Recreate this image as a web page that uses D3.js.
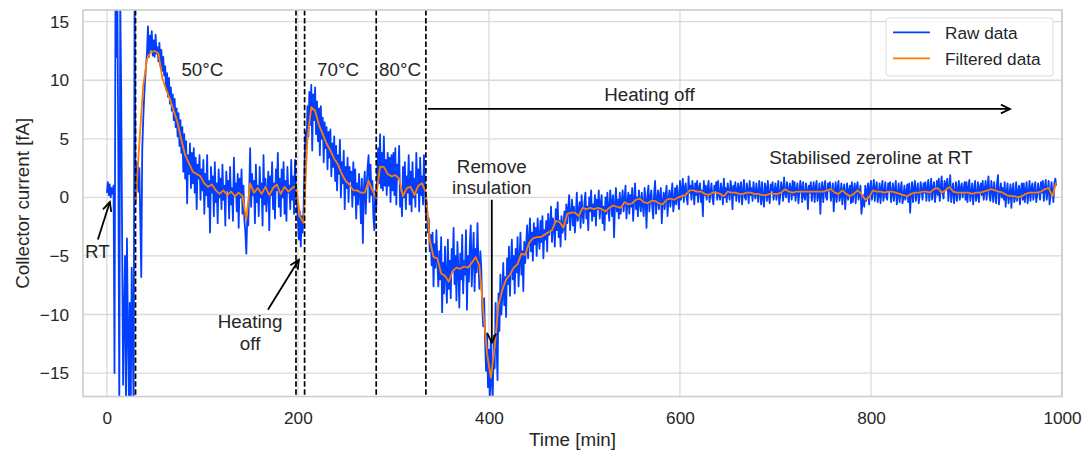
<!DOCTYPE html>
<html>
<head>
<meta charset="utf-8">
<script src="https://cdn.jsdelivr.net/npm/d3@7"></script>
<style>
  body { margin: 0; background: #fff; }
  text { font-family: "Liberation Sans", Arial, sans-serif; fill: #262626; }
</style>
</head>
<body>
<div id="chart"></div>
<script>
// raw collector current [fA], one sample per minute from t = 0 (20 per row)
var rawStart = 0, rawStep = 1;
var rawCurrent = [
  0.4, 1.3, 0.2, 1.1, 0.0, 0.8, 0.3, 1.0, -15, 17, 12, 17, 3, -18, 17, 9, -4, -16, -10, -5,
  -18, -3.5, -11, -17, -9, -18, -6, -12, -18, 17, -0.5, 1.5, 3.0, 0.5, 2.5, -2, -6.8, 4.0, 6.5, 8.5,
  10.0, 11.2, 12.4, 14.6, 12.0, 13.8, 12.6, 14.2, 12.1, 13.4, 12.0, 13.9, 12.3, 12.8, 11.6, 13.2, 11.2, 12.6, 10.8, 12.0,
  10.4, 11.2, 9.2, 10.6, 8.6, 10.2, 8.0, 9.4, 7.4, 8.8, 6.6, 8.4, 6.0, 7.6, 5.2, 7.2, 4.4, 6.6, 3.8, 6.0,
  2.2, 5.4, 1.6, 4.8, -0.5, 3.6, 2.0, 4.6, 0.8, 3.8, 1.2, 4.2, 0.4, 3.4, -1.0, 2.8, 1.6, 3.6, -0.2, 2.4,
  0.6, 3.2, -1.4, 2.0, 0.2, 3.6, -0.8, 1.4, -3.0, 2.6, 0.4, 1.8, -1.6, 3.0, -0.4, 1.2, -2.2, 2.4, 0.0, 1.6,
  -1.0, 2.8, -0.2, 1.0, -2.4, 2.2, 0.6, 1.4, -1.8, 2.6, -0.6, 0.8, -2.0, 3.4, 0.2, 1.2, -1.2, 2.0, -2.6, 1.6,
  0.0, 2.4, -1.4, 1.0, -2.0, -3.0, -4.8, -1.6, -2.4, 0.4, 4.2, -0.8, 2.0, 0.2, 1.4, -2.2, 2.8, -0.4, 1.0, -1.6,
  2.6, 0.0, 1.2, -2.4, 3.6, -0.6, 1.6, -1.2, 0.4, 2.2, -2.8, 1.8, 0.2, 3.0, -1.0, 1.2, -1.8, 2.4, 0.6, 3.8,
  -0.8, 1.6, -1.6, 2.4, 0.0, 3.0, -1.4, 1.4, -2.0, 2.6, 0.4, 1.0, -1.0, 3.2, -0.2, 1.8, -1.4, 3.2, 0.2, -0.6,
  -2.0, -3.6, -1.2, -4.2, -1.6, -3.0, -0.8, 3.0, 5.6, 4.2, 7.8, 5.2, 9.0, 6.2, 9.6, 4.0, 8.8, 6.6, 9.4, 5.4,
  8.2, 4.8, 7.6, 3.6, 7.8, 5.0, 6.8, 3.0, 6.4, 4.2, 6.0, 2.4, 5.6, 3.4, 5.8, 1.8, 4.6, 2.6, 5.2, 1.4,
  4.4, 0.6, 3.6, 2.0, 4.9, 0.0, 3.0, 1.2, 4.0, -1.0, 2.6, 0.8, 3.4, -0.4, 2.6, 1.4, 2.2, -0.8, 3.0, 0.2,
  2.4, -1.8, 1.2, -0.6, 2.0, 0.4, -2.2, 1.6, -3.9, 0.6, 2.2, -1.4, 1.0, 2.6, 3.6, -0.4, 2.8, 0.2, 1.4, -1.6,
  -2.8, 0.6, -1.0, 2.0, 4.2, 1.2, 5.4, 0.8, 3.8, 0.6, 5.2, 1.0, 3.2, 0.2, 3.8, 1.0, 3.4, -0.4, 3.6, 0.6,
  3.8, 0.2, 4.2, -0.6, 2.8, 1.6, 4.4, -0.8, 0.4, -1.6, 2.6, 0.0, 3.0, -1.0, 1.8, 0.4, 3.6, -0.6, 2.2, -1.2,
  3.0, 0.0, 1.6, -0.8, 3.8, 0.4, 2.4, -1.2, 3.4, 0.2, 1.8, -0.6, 3.6, 1.0, -1.6, -0.4, -3.0, -1.8, -4.6, -3.2,
  -5.8, -3.0, -7.6, -4.0, -6.0, -2.8, -5.4, -7.6, -4.6, -7.0, -3.4, -9.8, -5.6, -8.2, -4.2, -6.8, -9.0, -3.6, -7.8, -5.4,
  -8.6, -4.4, -6.2, -2.6, -7.4, -5.0, -8.8, -3.8, -6.0, -9.4, -4.8, -7.0, -3.2, -8.2, -5.4, -6.6, -2.8, -9.6, -5.0, -7.2,
  -4.0, -2.4, -7.6, -5.2, -3.0, -8.0, -4.4, -6.4, -2.2, -5.6, -7.8, -4.6, -6.0, -9.4, -11.0, -8.6, -12.4, -14.8, -11.6, -16.2,
  -13.0, -17.5, -12.2, -15.8, -17.2, -11.8, -14.6, -9.0, -12.6, -15.6, -8.2, -11.4, -6.6, -10.0, -8.4, -5.6, -9.2, -6.8, -10.2, -5.2,
  -7.4, -4.2, -8.4, -5.8, -3.6, -7.0, -5.0, -8.2, -4.4, -6.4, -3.4, -7.6, -5.4, -3.0, -6.6, -4.6, -8.0, -3.8, -5.6, -4.0,
  -2.4, -5.2, -3.6, -1.8, -4.6, -3.0, -5.4, -2.2, -4.0, -2.6, -5.0, -1.8, -3.4, -4.4, -2.0, -3.8, -1.6, -5.2, -2.8, -3.6,
  -2.0, -4.6, -1.4, -3.2, -2.6, -0.8, -3.8, -1.8, -2.4, -4.2, -1.0, -2.8, -0.4, -3.4, -2.0, -4.2, -1.6, -3.0, -2.6, -1.2,
  -3.6, -0.6, -2.2, -1.0, 0.2, -2.8, -1.4, -0.2, -2.4, -0.8, -3.0, -1.6, 0.4, -2.0, -1.2, -0.4, -2.6, 0.2, -1.4, -2.2,
  -0.4, 0.4, -1.8, -0.8, -2.8, 0.0, -1.2, 0.6, -2.0, -0.6, -1.6, 0.2, -2.4, -0.2, -1.0, 0.6, -1.8, -0.6, 0.2, -2.2,
  -0.8, -2.8, 0.0, -1.4, 0.4, -1.0, -2.0, 0.6, -0.4, -1.6, 0.2, -3.4, -0.6, 0.8, -1.2, -0.2, -1.8, 0.4, -1.4, -0.4,
  0.6, -1.2, -0.2, 1.0, -1.8, -0.4, 0.4, -1.4, 0.2, -0.8, 0.8, -2.0, -0.2, 1.2, -1.0, 0.0, -1.6, 0.6, -0.4, -1.2,
  0.4, -0.6, -1.6, 0.8, -0.2, -2.6, 0.2, 1.0, -1.2, 0.0, 0.6, -0.8, -1.8, 0.4, 1.4, -1.4, -0.2, 0.6, -1.0, 0.2,
  0.8, -2.2, -0.4, 0.4, -1.0, 0.2, 1.0, -1.6, -0.2, 0.6, -0.8, 0.2, 1.2, -1.2, -0.4, 0.8, -0.6, 1.0, 0.0, -1.0,
  1.4, -0.2, 0.6, 1.6, -0.4, 0.8, 1.2, 0.0, -0.6, 1.8, 0.4, 1.0, -0.2, 1.4, 0.6, -0.6, 1.2, 0.2, 1.4, -0.4,
  0.8, 1.2, -0.4, 0.6, -1.6, 1.4, 0.2, 1.0, -0.2, 0.8, 1.4, -0.4, 0.4, 1.2, 0.0, -0.6, 1.0, 0.6, 1.3, -0.2,
  1.4, 0.2, -0.2, 1.2, 0.6, -0.6, 1.6, 0.0, 0.8, -0.4, 1.2, 0.4, -0.2, 1.4, 0.8, -1.0, 1.0, 0.2, 1.3, -0.3,
  0.6, 1.2, -0.4, 0.8, 1.3, -0.6, 0.4, 1.5, 0.0, -0.2, 1.2, 0.6, -0.5, 1.4, 0.2, 0.8, -0.3, 1.3, 0.4, -0.1,
  1.2, 0.4, -0.4, 1.4, 0.6, -0.6, 1.3, 0.0, -0.8, 1.2, 0.8, -0.3, 1.4, 0.2, -0.5, 1.1, 0.6, 1.3, -0.2, 0.4,
  1.2, -0.2, 0.6, 1.4, -0.6, 0.2, 1.3, 0.8, -0.3, 1.7, 0.4, 0.0, 1.3, 0.6, -0.4, 1.2, 0.8, -0.2, 1.4, 0.2,
  1.3, -0.3, 0.6, 1.2, -0.5, 0.4, 1.4, 0.8, -0.4, 1.3, 0.2, -0.2, 1.2, 0.6, -1.0, 1.0, 0.4, 1.3, -0.3, 0.6,
  1.3, -0.4, 0.8, 1.4, -0.3, 0.2, 1.2, -1.4, 0.6, 1.3, -0.4, 0.8, 1.4, 0.0, -0.2, 1.2, 0.6, 1.3, -0.3, 0.4,
  1.2, -1.2, 0.4, 1.3, -0.4, 0.8, 1.4, -0.3, 0.2, 1.2, -0.6, 0.6, 1.1, -1.0, 0.4, 1.2, -0.2, 0.6, 1.0, -0.5,
  1.3, -0.4, 0.6, 1.2, -0.5, 0.8, 1.3, -0.2, 0.4, 1.0, -1.4, -0.6, 0.2, -0.8, 1.0, -0.3, 0.6, 1.2, -0.6, 0.8,
  1.4, -0.2, 0.6, 1.5, -0.3, 0.8, 1.3, -0.4, 0.2, 1.2, -0.5, 0.8, 1.4, -0.3, 0.4, 1.3, 0.0, -0.2, 1.2, 0.6,
  1.3, -0.4, 0.4, 1.2, -0.3, 0.6, 1.4, -0.6, 0.2, 1.2, -0.4, 0.6, 1.3, -0.5, 0.0, 1.0, -0.2, 0.4, 1.1, -0.4,
  1.2, -1.3, 0.4, 1.3, -0.4, 0.8, 1.4, -0.3, 0.6, 1.2, -0.5, 0.2, 1.3, 0.6, -0.2, 1.2, 0.4, 1.3, -0.3, 0.8,
  1.5, -0.3, 0.6, 1.6, -0.2, 0.8, 1.3, -0.4, 0.4, 1.4, 0.2, 1.6, -0.3, 0.8, 1.8, 0.4, -0.1, 1.4, 0.6, 1.2,
  1.6, -0.3, 0.8, 1.9, -0.4, 0.6, 1.2, -0.5, 0.4, 1.3, -0.3, 0.6, 1.4, -0.2, 0.8, 1.2, 0.0, 0.6, 1.3, -0.2,
  1.3, -0.4, 0.8, 1.5, -0.3, 0.4, 1.2, -0.6, 0.6, 1.4, -0.3, 0.2, 1.3, -0.4, 0.8, 1.2, 0.2, 1.4, -0.2, 0.6,
  1.4, -0.2, 0.8, 1.8, 0.2, -0.3, 1.4, 0.6, -0.4, 1.3, 0.4, -0.5, 1.2, 1.9, -0.6, 0.4, 1.2, 0.0, 0.8, -0.2,
  1.3, -0.8, 0.4, 1.2, -0.5, 0.2, 1.1, -0.9, 0.6, 1.2, -0.4, 0.0, 1.3, -0.3, 0.4, 1.0, -0.6, 0.6, 1.2, -0.2,
  1.2, -0.4, 0.6, 1.3, -0.5, 0.4, 1.4, -0.3, 0.8, 1.2, -0.2, 0.6, 1.3, -0.4, 0.2, 1.2, 0.6, -0.2, 1.3, 0.4,
  1.4, -0.3, 0.8, 1.5, -0.2, 0.6, 1.4, -0.6, 0.2, 1.3, 0.4, -0.4, 1.2, 1.6, 1.0
];

// filtered current [fA], one sample every 4 min from t = 30
var filtStart = 30, filtStep = 4;
var filteredCurrent = [
  -0.5, 4.6, 9.5, 11.8, 12.4, 12.5, 12.3, 10.2, 9.2, 8.4,
  7.4, 6.4, 4.9, 3.6, 2.9, 2.2, 2.0, 1.8, 1.2, 0.9,
  1.1, 0.6, 0.3, 0.6, 0.2, 0.5, 0.1, 0.4, 0.1, -1.9,
  1.2, 0.4, 0.8, 0.3, 0.9, 0.2, 0.8, 1.1, 0.3, 0.9,
  0.5, 0.8, 1.0, -1.6, -2.2, 5.0, 7.7, 7.4, 6.2, 5.4,
  4.6, 4.0, 3.3, 2.8, 2.0, 1.4, 1.1, 0.6, 0.6, 0.4,
  0.4, 1.4, 0.6, 0.0, 2.6, 2.6, 2.0, 1.8, 1.9, 1.6,
  0.1, 0.8, 0.9, 0.2, 1.0, 1.2, 0.4, -3.6, -5.1, -5.2,
  -6.5, -6.7, -7.2, -6.3, -6.0, -6.1, -5.9, -6.0, -5.6, -5.1,
  -5.8, -9.6, -13.3, -15.4, -12.8, -9.2, -7.9, -7.0, -6.6, -6.0,
  -5.7, -4.8, -4.9, -3.9, -3.5, -3.4, -3.4, -3.2, -3.0, -2.8,
  -2.0, -2.1, -2.6, -1.4, -1.3, -1.3, -1.6, -0.9, -1.0, -0.9,
  -1.0, -0.9, -1.0, -1.2, -0.9, -0.7, -0.8, -0.9, -0.4, -0.6,
  -0.5, -0.2, -0.1, -0.4, -0.5, -0.3, -0.3, -0.5, -0.6, -0.2,
  -0.1, -0.2, 0.0, 0.1, 0.2, 0.6, 0.6, 0.5, 0.5, 0.3,
  0.2, 0.4, 0.4, 0.3, 0.1, 0.5, 0.4, 0.4, 0.3, 0.3,
  0.4, 0.4, 0.3, 0.3, 0.2, 0.2, 0.3, 0.3, 0.3, 0.4,
  0.7, 0.5, 0.4, 0.5, 0.5, 0.5, 0.5, 0.5, 0.5, 0.5,
  0.5, 0.6, 0.7, 0.4, 0.3, 0.6, 0.3, 0.1, 0.3, 0.6,
  0.3, -0.2, 0.0, 0.6, 0.5, 0.5, 0.4, 0.5, 0.5, 0.4,
  0.3, 0.2, 0.1, 0.3, 0.4, 0.4, 0.5, 0.5, 0.4, 0.7,
  0.8, 0.4, 0.6, 0.9, 0.5, 0.4, 0.4, 0.4, 0.4, 0.3,
  0.4, 0.4, 0.5, 0.6, 0.7, 0.6, 0.5, 0.4, 0.2, 0.1,
  0.1, 0.0, 0.1, 0.3, 0.4, 0.4, 0.4, 0.5, 0.7, 0.8,
  0.1, 1.3
];

// ticks, event markers, legend names
var xTicks = [0, 200, 400, 600, 800, 1000];
var yTicks = [-15, -10, -5, 0, 5, 10, 15];
var eventTimes = [30, 198, 207, 282, 334];
var seriesNames = ["Raw data", "Filtered data"];
var seriesColors = ["#023eff", "#ff7c00"];

// set the dimensions and margins of the graph
var margin = {top: 10, right: 23, bottom: 54.5, left: 83},
    width = 1085 - margin.left - margin.right,
    height = 451 - margin.top - margin.bottom;

var svg = d3.select("#chart").append("svg")
    .attr("width", 1085)
    .attr("height", 451);

var g = svg.append("g")
    .attr("transform", "translate(" + margin.left + "," + margin.top + ")");

var x = d3.scaleLinear().domain([-25, 1000]).range([0, width]);
var y = d3.scaleLinear().domain([-17, 16]).range([height, 0]);

// grid lines
g.append("g").selectAll("line")
    .data(xTicks)
    .enter().append("line")
    .attr("x1", function(d) { return x(d); })
    .attr("x2", function(d) { return x(d); })
    .attr("y1", 0).attr("y2", height)
    .attr("stroke", "#dadada").attr("stroke-width", 1.3);

g.append("g").selectAll("line")
    .data(yTicks)
    .enter().append("line")
    .attr("y1", function(d) { return y(d); })
    .attr("y2", function(d) { return y(d); })
    .attr("x1", 0).attr("x2", width)
    .attr("stroke", "#dadada").attr("stroke-width", 1.3);

// tick labels
var xAxis = g.append("g")
    .attr("transform", "translate(0," + height + ")")
    .call(d3.axisBottom(x).tickValues(xTicks).tickFormat(d3.format("d")).tickSize(0).tickPadding(15));
var yAxis = g.append("g")
    .call(d3.axisLeft(y).tickValues(yTicks).tickFormat(d3.format("d")).tickSize(0).tickPadding(14));
[xAxis, yAxis].forEach(function(a) {
    a.select(".domain").remove();
    a.selectAll("text")
        .style("font-size", "17.2px")
        .style("font-family", "'Liberation Sans', Arial, sans-serif")
        .attr("fill", "#262626");
});

// clip the data to the plot area
svg.append("defs").append("clipPath").attr("id", "clip")
    .append("rect").attr("width", width).attr("height", height);

var line = d3.line()
    .x(function(d) { return x(d[0]); })
    .y(function(d) { return y(d[1]); });

var rawPoints = rawCurrent.map(function(v, i) { return [rawStart + i * rawStep, v]; });
var filtPoints = filteredCurrent.map(function(v, i) { return [filtStart + i * filtStep, v]; });

var plot = g.append("g").attr("clip-path", "url(#clip)");

plot.append("path")
    .datum(rawPoints)
    .attr("d", line)
    .attr("fill", "none")
    .attr("stroke", seriesColors[0])
    .attr("stroke-width", 1.8)
    .attr("stroke-linejoin", "round");

plot.append("path")
    .datum(filtPoints)
    .attr("d", line)
    .attr("fill", "none")
    .attr("stroke", seriesColors[1])
    .attr("stroke-width", 1.8)
    .attr("stroke-linejoin", "round");

// dashed event lines
plot.selectAll(".event")
    .data(eventTimes)
    .enter().append("line")
    .attr("x1", function(d) { return x(d); })
    .attr("x2", function(d) { return x(d); })
    .attr("y1", 0).attr("y2", height)
    .attr("stroke", "black")
    .attr("stroke-width", 1.7)
    .attr("stroke-dasharray", "5.5,2.4");

// frame
g.append("rect")
    .attr("width", width).attr("height", height)
    .attr("fill", "none")
    .attr("stroke", "#cccccc")
    .attr("stroke-width", 1.6);

// annotations
function label(t, v, txt) {
    g.append("text")
        .attr("x", x(t)).attr("y", y(v))
        .style("text-anchor", "middle")
        .style("font-size", "18.8px")
        .text(txt);
}
function arrow(t1, v1, t2, v2) {
    var x1 = x(t1), y1 = y(v1), x2 = x(t2), y2 = y(v2);
    var a = Math.atan2(y2 - y1, x2 - x1), len = 10, w = 0.45;
    g.append("line")
        .attr("x1", x1).attr("y1", y1).attr("x2", x2).attr("y2", y2)
        .attr("stroke", "black").attr("stroke-width", 1.8);
    g.append("path")
        .attr("d", "M" + (x2 - len * Math.cos(a - w)) + "," + (y2 - len * Math.sin(a - w)) +
                   "L" + x2 + "," + y2 +
                   "L" + (x2 - len * Math.cos(a + w)) + "," + (y2 - len * Math.sin(a + w)))
        .attr("fill", "none").attr("stroke", "black").attr("stroke-width", 1.8);
}

label(100, 10.37, "50°C");
label(242, 10.37, "70°C");
label(307, 10.37, "80°C");
label(568, 8.2, "Heating off");
label(800, 2.86, "Stabilised zeroline at RT");
label(403, 2.07, "Remove");
label(403, 0.3, "insulation");
label(-10, -5.2, "RT");
label(150, -11.16, "Heating");
label(150, -13.0, "off");

arrow(-9.4, -3.6, 3.1, -0.4);
arrow(168.6, -9.6, 201, -5.33);
arrow(336, 7.55, 945.5, 7.55);
arrow(403, -0.2, 403, -12.4);

// x and y labels
svg.append("text")
    .attr("x", margin.left + width / 2)
    .attr("y", 446)
    .style("text-anchor", "middle")
    .style("font-size", "18.8px")
    .text("Time [min]");

svg.append("text")
    .attr("transform", "rotate(-90)")
    .attr("x", -(margin.top + height / 2))
    .attr("y", 29)
    .style("text-anchor", "middle")
    .style("font-size", "18.8px")
    .text("Collector current [fA]");

// legend
var legend = svg.append("g").attr("transform", "translate(886,18)");
legend.append("rect")
    .attr("width", 167).attr("height", 58)
    .attr("rx", 3)
    .attr("fill", "white").attr("fill-opacity", 0.8)
    .attr("stroke", "#dddddd").attr("stroke-width", 1);

seriesNames.forEach(function(name, i) {
    legend.append("line")
        .attr("x1", 7).attr("x2", 44)
        .attr("y1", 14.3 + i * 26).attr("y2", 14.3 + i * 26)
        .attr("stroke", seriesColors[i]).attr("stroke-width", 1.8);
    legend.append("text")
        .attr("x", 59).attr("y", 21.3 + i * 26)
        .style("font-size", "17.2px")
        .text(name);
});
</script>
</body>
</html>
